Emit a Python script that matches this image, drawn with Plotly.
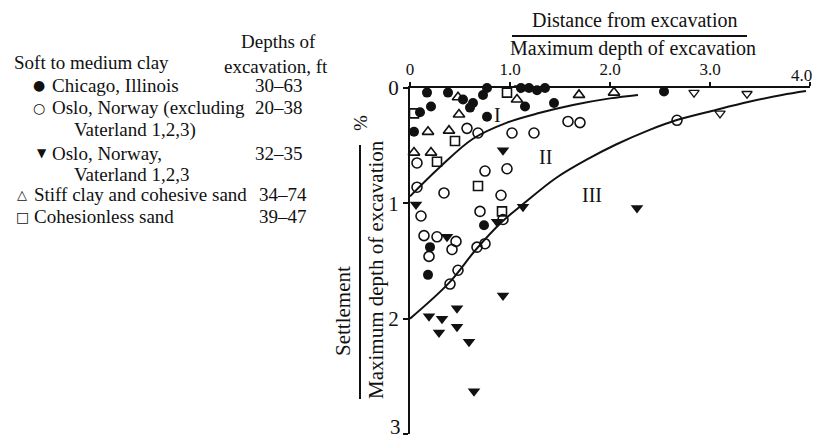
import plotly.graph_objects as go

# Ratio of distance from excavation to maximum excavation depth (x),
# and settlement as % of maximum excavation depth (y).
chicago_x = [0.17, 0.38, 0.53, 0.63, 0.60, 0.73, 0.77, 1.11, 1.19, 1.27, 1.35,
             1.15, 1.44, 2.54, 0.21, 0.10, 0.77, 0.04, 0.74, 0.20, 0.18]
chicago_y = [0.04, 0.04, 0.10, 0.13, 0.17, 0.06, 0.00, 0.00, 0.00, 0.02, 0.00,
             0.16, 0.13, 0.03, 0.16, 0.21, 0.25, 0.38, 1.19, 1.38, 1.62]

oslo_x = [0.57, 0.68, 1.02, 1.24, 1.58, 1.70, 0.07, 0.75, 0.97, 0.07, 0.34, 0.91,
          0.11, 0.70, 0.93, 0.14, 0.27, 0.46, 0.42, 0.19, 0.67, 0.75, 0.48, 0.40, 2.67]
oslo_y = [0.35, 0.39, 0.39, 0.39, 0.29, 0.30, 0.65, 0.72, 0.70, 0.86, 0.91, 0.93,
          1.11, 1.07, 1.14, 1.28, 1.29, 1.33, 1.40, 1.46, 1.38, 1.35, 1.58, 1.70, 0.28]

vaterland_x = [1.10, 0.93, 0.06, 0.87, 1.13, 0.37, 0.93, 0.19, 0.32, 0.47, 0.29,
               0.47, 0.59, 0.64, 2.27]
vaterland_y = [0.00, 0.54, 1.01, 1.16, 1.03, 1.29, 1.80, 1.98, 2.00, 1.91, 2.12,
               2.07, 2.20, 2.63, 1.04]

stiff_x = [0.48, 1.07, 1.69, 2.04, 0.49, 0.18, 0.39, 0.04, 0.21]
stiff_y = [0.08, 0.10, 0.06, 0.04, 0.23, 0.38, 0.37, 0.56, 0.56]

sand_x = [0.97, 0.04, 0.45, 0.27, 0.68, 0.92]
sand_y = [0.04, 0.22, 0.46, 0.64, 0.85, 1.07]

other_x = [2.84, 3.37, 3.10]
other_y = [0.04, 0.05, 0.22]

# Zone boundaries (I/II and II/III)
bound1_x = [0.00, 0.30, 0.63, 0.97, 1.30, 1.63, 2.00, 2.28]
bound1_y = [0.94, 0.685, 0.44, 0.30, 0.215, 0.147, 0.09, 0.06]
bound2_x = [0.00, 0.39, 0.66, 0.92, 1.14, 1.46, 1.79, 2.06, 2.39, 2.66, 3.06, 3.39, 3.72, 3.96]
bound2_y = [2.00, 1.69, 1.40, 1.16, 1.00, 0.78, 0.61, 0.49, 0.365, 0.28, 0.19, 0.12, 0.06, 0.026]

zone_labels = ["I", "II", "III"]
zone_x = [0.87, 1.35, 1.82]
zone_y = [0.23, 0.60, 0.93]

# Tick positions; the labels at the far ends are placed as separate notes
x_ticks = [0, 1, 2, 3, 4]
x_tick_text = ["0", "1.0", "2.0", "3.0", ""]
y_ticks = [0, 1, 2, 3]
y_tick_text = ["0", "1", "2", ""]

legend_rows = [
    ("●", "Chicago, Illinois", "30–63"),
    ("○", "Oslo, Norway (excluding", "20–38"),
    ("▼", "Oslo, Norway,", "32–35"),
    ("△", "Stiff clay and cohesive sand", "34–74"),
    ("□", "Cohesionless sand", "39–47"),
]

SERIF = "Liberation Serif, Times New Roman, serif"
INK = "#111111"

W, H = 816, 439
L, R, T, B = 410, 6, 88, 5
PW, PH = W - L - R, H - T - B


def px(xp):
    return (xp - L) / PW


def py(yp):
    return 1 - (yp - T) / PH


fig = go.Figure()

for bx, by in [(bound1_x, bound1_y), (bound2_x, bound2_y)]:
    fig.add_trace(go.Scatter(x=bx, y=by, mode="lines",
                             line=dict(color=INK, width=2, shape="spline", smoothing=1.0),
                             cliponaxis=False, hoverinfo="skip"))

open_line = dict(color=INK, width=1.6)
series = [
    (chicago_x, chicago_y, dict(symbol="circle", size=10, color=INK)),
    (oslo_x, oslo_y, dict(symbol="circle-open", size=10, color=INK, line=open_line)),
    (vaterland_x, vaterland_y, dict(symbol="triangle-down", size=11, color=INK)),
    (stiff_x, stiff_y, dict(symbol="triangle-up-open", size=10, color=INK, line=open_line)),
    (sand_x, sand_y, dict(symbol="square-open", size=9, color=INK, line=open_line)),
    (other_x, other_y, dict(symbol="triangle-down-open", size=9, color=INK, line=dict(color=INK, width=1.3))),
]
for sx, sy, mk in series:
    fig.add_trace(go.Scatter(x=sx, y=sy, mode="markers", marker=mk, cliponaxis=False))

ann = []
for t, zx, zy in zip(zone_labels, zone_x, zone_y):
    ann.append(dict(x=zx, y=zy, xref="x", yref="y", text=t, showarrow=False,
                    font=dict(family=SERIF, size=20, color=INK)))


def note(text, xp, yp, size=19, xanchor="left", family=SERIF, angle=0):
    ann.append(dict(x=px(xp), y=py(yp), xref="paper", yref="paper", text=text,
                    showarrow=False, xanchor=xanchor, yanchor="middle", textangle=angle,
                    font=dict(family=family, size=size, color=INK)))


# End-of-axis tick labels kept inside the page
note("4.0", 814, 76, size=17, xanchor="right")
note("3", 395, 427, size=21, xanchor="center")

# Axis titles as stacked fractions
note("Distance from excavation", 634, 20, size=20, xanchor="center")
note("Maximum depth of excavation", 633, 48, size=20, xanchor="center")
note("Settlement", 343, 311, size=21, xanchor="center", angle=-90)
note("Maximum depth of excavation", 376, 270, size=21, xanchor="center", angle=-90)
note("%", 360, 123, size=19, xanchor="center", angle=-90)

# Legend block
note("Depths of", 278, 42, xanchor="center")
note("Soft to medium clay", 12, 63)
note("excavation, ft", 276, 66, xanchor="center")
row_y = [85, 108, 153, 194, 217]
sym_x = [39, 39, 42, 22, 22]
text_x = [50, 50, 50, 32, 32]
depth_x = [253, 253, 253, 257, 257]
sym_size = [14, 14, 12, 13, 14]
for (sym, label, depth), yy, sxp, txp, dxp, ss in zip(legend_rows, row_y, sym_x, text_x, depth_x, sym_size):
    note(sym, sxp, yy, size=ss, xanchor="center", family="DejaVu Sans")
    note(label, txp, yy)
    note(depth, dxp, yy)
note("Vaterland 1,2,3)", 72, 130)
note("Vaterland 1,2,3", 72, 174)

shapes = [
    dict(type="line", xref="paper", yref="paper", x0=px(512), x1=px(747), y0=py(36), y1=py(36),
         line=dict(color=INK, width=2)),
    dict(type="line", xref="paper", yref="paper", x0=px(360), x1=px(360), y0=py(145), y1=py(399),
         line=dict(color=INK, width=2)),
]

fig.update_layout(
    width=W, height=H,
    margin=dict(l=L, r=R, t=T, b=B),
    paper_bgcolor="white", plot_bgcolor="white",
    showlegend=False,
    annotations=ann, shapes=shapes,
    xaxis=dict(range=[0, 4], side="top", showgrid=False, zeroline=False,
               showline=True, linecolor=INK, linewidth=2,
               ticks="outside", ticklen=4, tickwidth=1.5, tickcolor=INK,
               tickvals=x_ticks, ticktext=x_tick_text,
               tickfont=dict(family=SERIF, size=17, color=INK)),
    yaxis=dict(range=[3, 0], showgrid=False, zeroline=False,
               showline=True, linecolor=INK, linewidth=2,
               ticks="outside", ticklen=5, tickwidth=1.5, tickcolor=INK,
               tickvals=y_ticks, ticktext=y_tick_text,
               tickfont=dict(family=SERIF, size=21, color=INK)),
)

fig.write_html("out.html")
